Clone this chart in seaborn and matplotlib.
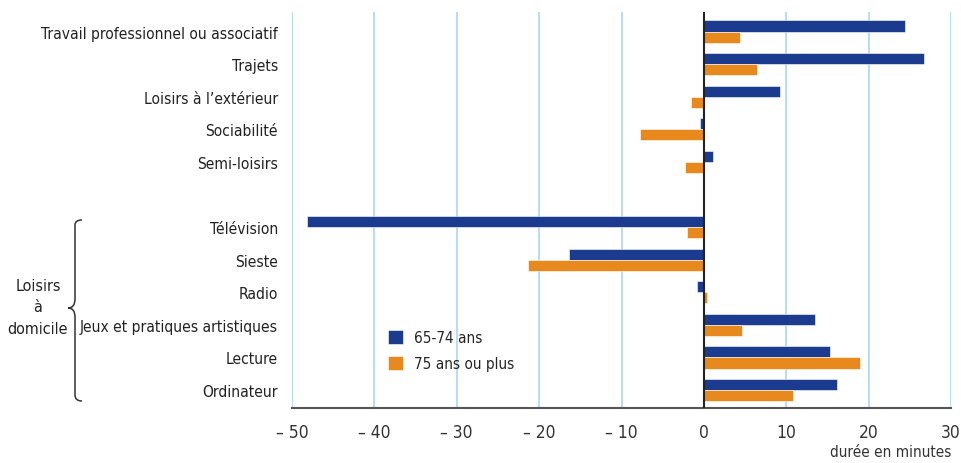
import numpy as np
import matplotlib.pyplot as plt
import pandas as pd
import seaborn as sns
from matplotlib.path import Path
from matplotlib.patches import PathPatch

categories = ["Travail professionnel ou associatif", "Trajets", "Loisirs à l’extérieur",
              "Sociabilité", "Semi-loisirs", "Télévision", "Sieste", "Radio",
              "Jeux et pratiques artistiques", "Lecture", "Ordinateur"]
age_6574 = [24.4, 26.7, 9.3, -0.5, 1.1, -48.2, -16.4, -0.8, 13.5, 15.3, 16.2]
age_75plus = [4.4, 6.5, -1.6, -7.8, -2.3, -2.0, -21.4, 0.4, 4.6, 19.0, 10.8]
series = ["65-74 ans", "75 ans ou plus"]
x_ticks = [-50, -40, -30, -20, -10, 0, 10, 20, 30]

df = pd.DataFrame({
    "activite": categories * 2,
    "duree": age_6574 + age_75plus,
    "groupe": [series[0]] * len(categories) + [series[1]] * len(categories),
})

# blank slot between the two groups of activities
order = categories[:5] + [" "] + categories[5:]

sns.set_style("white")
plt.rcParams['font.family'] = ['DejaVu Sans']
plt.rcParams['font.stretch'] = 'condensed'

fig = plt.figure(figsize=(9.61, 4.64), dpi=100)
ax = fig.add_axes([292 / 961, 1 - 409 / 464, (951 - 292) / 961, (409 - 13) / 464])

palette = {series[0]: "#1a3b8e", series[1]: "#e8891d"}
sns.barplot(data=df, x="duree", y="activite", hue="groupe", order=order,
            hue_order=series, palette=palette, orient="h", width=0.68,
            saturation=1, ax=ax, zorder=3, edgecolor="white", linewidth=0.4)

ax.set_xlim(-50, 30)
ax.set_ylim(11.55, -0.6)
ax.set_xticks(x_ticks)
ax.set_xticklabels([("– %d" % -t) if t < 0 else str(t) for t in x_ticks], fontsize=12.5, color="#333333")
ax.tick_params(axis="y", labelsize=11.2, colors="#222222", length=0, pad=10)
ax.tick_params(axis="x", length=0, pad=11)
ax.set_xlabel("")
ax.set_ylabel("")

for t in x_ticks:
    if t != 0:
        ax.axvline(t, color="#a9d5f2", lw=1.2, zorder=0)
ax.axvline(0, color="#222222", lw=1.5, zorder=4)

for s in ["top", "right", "left"]:
    ax.spines[s].set_visible(False)
ax.spines["bottom"].set_color("#555555")
ax.spines["bottom"].set_linewidth(1.5)

ax.legend(loc="upper left", bbox_to_anchor=(0.125, 0.232), frameon=False, fontsize=11,
          handlelength=1.0, handleheight=1.0, handletextpad=0.7, labelspacing=0.75)

fig.text(951 / 961, 1 - 453 / 464, "durée en minutes", ha="right", va="center",
         fontsize=11, color="#333333")

# curly brace for the "Loisirs à domicile" group
W, H = 961, 464
pts = [(82, 221), (75, 221), (75, 226), (75, 300), (75, 309), (68, 309),
       (75, 309), (75, 318), (75, 396), (75, 402), (82, 402)]
pts = [(x / W, 1 - y / H) for x, y in pts]
codes = [Path.MOVETO, Path.CURVE3, Path.CURVE3, Path.LINETO, Path.CURVE3, Path.CURVE3,
         Path.CURVE3, Path.CURVE3, Path.LINETO, Path.CURVE3, Path.CURVE3]
brace = PathPatch(Path(pts, codes), transform=fig.transFigure, fill=False,
                  edgecolor="#333333", lw=1.1)
fig.patches.append(brace)
fig.text(38 / W, 1 - 308 / H, "Loisirs\nà\ndomicile", ha="center", va="center",
         fontsize=11.5, color="#222222", linespacing=1.55)

fig.savefig("out.png", dpi=100)
